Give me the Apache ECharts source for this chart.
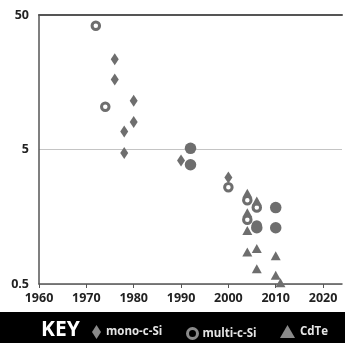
<!DOCTYPE html>
<html>
<head>
<meta charset="utf-8">
<script src="https://cdn.jsdelivr.net/npm/echarts@6/dist/echarts.min.js"></script>
<style>
  html, body { margin: 0; padding: 0; background: #fff; }
  #chart { width: 345px; height: 343px; }
</style>
</head>
<body>
<div id="chart"></div>
<script>
// Module cost over time, log scale
const xTicks = [1960, 1970, 1980, 1990, 2000, 2010, 2020];
const yTicks = [0.5, 5, 50];

const monoYears  = [1976, 1976, 1980, 1980, 1978, 1978, 1990, 2000];
const monoValues = [23.4, 16.6, 11.5, 8.0, 6.8, 4.7, 4.15, 3.1];

const multiYears  = [1972, 1974, 2000, 2004, 2006, 2004, 2006];
const multiValues = [41.6, 10.4, 2.62, 2.1, 1.85, 1.5, 1.36];

const cdteYears  = [2004, 2006, 2004, 2004, 2004, 2006, 2010, 2006, 2010, 2011];
const cdteValues = [2.36, 2.07, 1.69, 1.25, 0.865, 0.92, 0.81, 0.65, 0.58, 0.51];

const otherYears  = [1992, 1992, 2010, 2010, 2006];
const otherValues = [5.1, 3.85, 1.85, 1.31, 1.31];

const pairs = (xs, ys) => xs.map((x, i) => [x, ys[i]]);

const markGray = '#6e6e6e';
const labelFont = { fontFamily: 'Open Sans', fontWeight: 'bold', fontSize: 12.5, color: '#222' };
const legendText = { color: '#e4e4e4', fontFamily: 'Open Sans', fontWeight: 'bold', fontSize: 11.5 };

const chart = echarts.init(document.getElementById('chart'), null, { renderer: 'canvas' });
chart.setOption({
  animation: false,
  grid: { left: 39, right: 3, top: 15, bottom: 59 },
  xAxis: [{
    type: 'value', min: 1960, max: 2024,
    axisLine: { show: true, lineStyle: { color: '#555', width: 1.5 } },
    axisTick: { show: true, customValues: xTicks, length: 4, lineStyle: { color: '#555' } },
    axisLabel: Object.assign({ customValues: xTicks, margin: 8, formatter: v => String(v) }, labelFont),
    splitLine: { show: false }
  }, {
    type: 'value', min: 1960, max: 2024, position: 'top',
    axisLine: { show: true, lineStyle: { color: '#555', width: 2 } },
    axisTick: { show: false }, axisLabel: { show: false }, splitLine: { show: false }
  }],
  yAxis: {
    type: 'log', logBase: 10, min: 0.5, max: 50,
    axisLine: { show: true, lineStyle: { color: '#555', width: 1.5 } },
    axisTick: { show: false, customValues: yTicks },
    axisLabel: Object.assign({ customValues: yTicks, margin: 10, formatter: v => String(v) }, labelFont),
    splitLine: { show: true, lineStyle: { color: '#c4c4c4', width: 1 } }
  },
  graphic: [
    { type: 'rect', left: 0, top: 312, z: 0, shape: { width: 345, height: 31 }, style: { fill: '#000' } },
    { type: 'text', left: 41, top: 320, z: 1,
      style: { text: 'KEY', fill: '#fff', font: 'bold 21px "Open Sans"' } }
  ],
  legend: [
    { data: [{ name: 'mono-c-Si', itemStyle: { color: '#8a8a8a' } }], left: 92, top: 325,
      itemWidth: 9, itemHeight: 14, textStyle: legendText, padding: 0 },
    { data: [{ name: 'multi-c-Si', itemStyle: { color: '#000', borderColor: '#8a8a8a', borderWidth: 3 } }],
      left: 186, top: 327, itemWidth: 10, itemHeight: 10, textStyle: legendText, padding: 0 },
    { data: [{ name: 'CdTe', itemStyle: { color: '#8a8a8a' } }], left: 280, top: 325,
      itemWidth: 15, itemHeight: 13, textStyle: legendText, padding: 0 }
  ],
  series: [
    { name: 'multi-c-Si', type: 'scatter', symbol: 'circle', symbolSize: 7.5,
      itemStyle: { color: '#fff', borderColor: markGray, borderWidth: 3, opacity: 1 },
      data: pairs(multiYears, multiValues), z: 2 },
    { name: 'other', type: 'scatter', symbol: 'circle', symbolSize: 11.5,
      itemStyle: { color: markGray, opacity: 1 },
      data: pairs(otherYears, otherValues), z: 3 },
    { name: 'mono-c-Si', type: 'scatter', symbol: 'diamond', symbolSize: [8, 12],
      itemStyle: { color: markGray, opacity: 1 },
      data: pairs(monoYears, monoValues), z: 3 },
    { name: 'CdTe', type: 'scatter', symbol: 'triangle', symbolSize: [10, 9],
      itemStyle: { color: markGray, opacity: 1 },
      data: pairs(cdteYears, cdteValues), z: 4 }
  ]
});
</script>
</body>
</html>
